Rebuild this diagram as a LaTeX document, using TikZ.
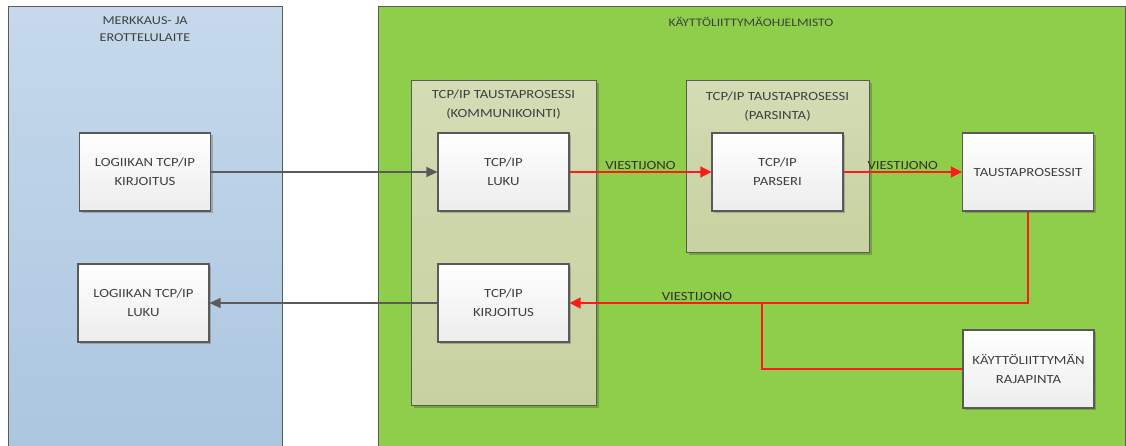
\documentclass[tikz,border=0pt]{standalone}
\usepackage{fontspec}
\setmainfont{Carlito}[FakeStretch=1.18]
\usetikzlibrary{arrows.meta,shadows}
\definecolor{txt}{HTML}{404040}
\definecolor{edge}{HTML}{5A5A5A}
\definecolor{bluetop}{HTML}{C6D9EC}
\definecolor{bluebot}{HTML}{ABC6E0}
\definecolor{greenbg}{HTML}{8FCE4A}
\definecolor{olivetop}{HTML}{D3DCB4}
\definecolor{olivebot}{HTML}{C8D1A0}
\definecolor{boxbot}{HTML}{EDEDED}
\definecolor{redline}{HTML}{FF1A1A}
\tikzset{
  every node/.style={font=\fontsize{12.5}{19}\selectfont, text=txt, align=center},
  container/.style={draw=edge, line width=1.2pt, anchor=north west, inner sep=0pt},
  group/.style={draw=edge, line width=1.2pt, anchor=north west, inner sep=0pt, top color=olivetop, bottom color=olivebot,
     drop shadow={shadow xshift=2pt, shadow yshift=-2pt, opacity=0.2, fill=black}},
  proc/.style={draw=edge, line width=1.2pt, top color=white, bottom color=boxbot, minimum width=131pt, minimum height=78pt, inner sep=0pt,
     drop shadow={shadow xshift=2pt, shadow yshift=-2pt, opacity=0.2, fill=black}},
  grayarrow/.style={draw=edge, line width=1.3pt, -{Triangle[length=11pt,width=10pt]}},
  redarrow/.style={draw=redline, line width=1.5pt, -{Triangle[length=11pt,width=11pt]}},
  redline/.style={draw=redline, line width=1.5pt},
  lbl/.style={font=\fontsize{12.5}{15}\selectfont, text=black!80},
  title/.style={font=\fontsize{12}{17}\selectfont}
}
\begin{document}
\begin{tikzpicture}[x=1pt,y=-1pt]
\useasboundingbox (0,0) rectangle (1126,446);
% containers
\node[container, top color=bluetop, bottom color=bluebot, minimum width=274pt, minimum height=446pt] (left) at (8,6) {};
\node[container, fill=greenbg, minimum width=747pt, minimum height=446pt] (right) at (378,6) {};
\node[title] (lefttitle) at (145,29) {MERKKAUS- JA\\EROTTELULAITE};
\node[title, font=\fontsize{11.5}{14}\selectfont] (righttitle) at (751,22) {KÄYTTÖLIITTYMÄOHJELMISTO};
% groups
\node[group, minimum width=185pt, minimum height=325pt] (comm) at (411,80) {};
\node[group, minimum width=183pt, minimum height=172pt] (pars) at (686,80) {};
\node (commtitle) at (503.5,104.5) {TCP/IP TAUSTAPROSESSI\\(KOMMUNIKOINTI)};
\node (parstitle) at (777.5,106.5) {TCP/IP TAUSTAPROSESSI\\(PARSINTA)};
% process boxes
\node[proc] (lkirj) at (145,172) {LOGIIKAN TCP/IP\\KIRJOITUS};
\node[proc] (lluku) at (143.5,303) {LOGIIKAN TCP/IP\\LUKU};
\node[proc] (luku) at (503.5,172) {TCP/IP\\LUKU};
\node[proc] (kirj) at (503.5,303) {TCP/IP\\KIRJOITUS};
\node[proc] (parseri) at (777.5,172) {TCP/IP\\PARSERI};
\node[proc] (tausta) at (1028,172) {TAUSTAPROSESSIT};
\node[proc] (raja) at (1028.5,369) {KÄYTTÖLIITTYMÄN\\RAJAPINTA};
% connectors
\draw[grayarrow] (lkirj.east) -- (luku.west);
\draw[grayarrow] (kirj.west) -- (lluku.east);
\draw[redarrow] (luku.east) -- node[lbl, above, inner sep=2pt] (l1) {VIESTIJONO} (parseri.west);
\draw[redarrow] (parseri.east) -- node[lbl, above, inner sep=2pt] (l2) {VIESTIJONO} (tausta.west);
\coordinate (corner) at (tausta.south |- kirj.east);
\coordinate (branch) at (762,303);
\draw[redarrow] (tausta.south) -- (corner) -- (kirj.east);
\node[lbl, above, inner sep=2pt] (l3) at (697,303) {VIESTIJONO};
\draw[redline] (branch) |- (raja.west);
\end{tikzpicture}
\end{document}
